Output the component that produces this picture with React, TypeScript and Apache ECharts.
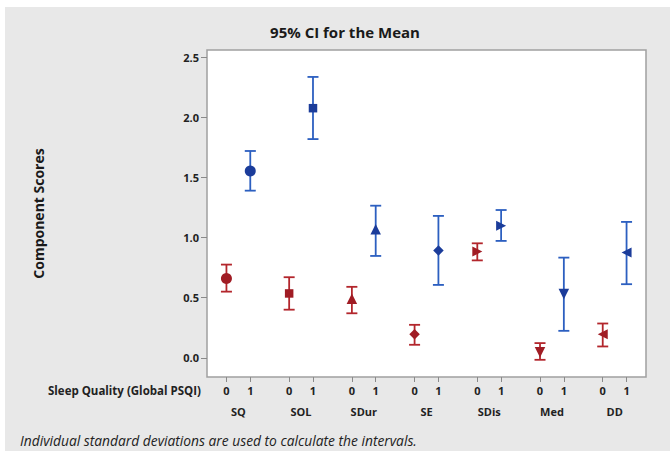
import React, { useEffect, useRef } from "react";
import * as echarts from "echarts";

const groups = ["SQ", "SOL", "SDur", "SE", "SDis", "Med", "DD"];
const levels = ["0", "1"];
const symbols = ["circle", "rect", "triangle", "diamond", "triangle", "triangle", "triangle"];
const rotations = [0, 0, 0, 0, -90, 180, 90];
const symbolSizes = [11, 8.5, 10.5, 10.5, 10, 10.5, 10];

const mean0 = [0.66, 0.535, 0.49, 0.195, 0.883, 0.045, 0.195];
const lower0 = [0.55, 0.40, 0.37, 0.108, 0.81, -0.017, 0.094];
const upper0 = [0.775, 0.67, 0.59, 0.274, 0.952, 0.122, 0.285];

const mean1 = [1.553, 2.076, 1.069, 0.892, 1.099, 0.53, 0.875];
const lower1 = [1.39, 1.819, 0.847, 0.606, 0.972, 0.224, 0.612];
const upper1 = [1.72, 2.336, 1.265, 1.18, 1.229, 0.833, 1.13];

const yTicks = [0, 0.5, 1.0, 1.5, 2.0, 2.5];

const OFFSET = 0.19;
const RED = "#a01c24";
const RED_BAR = "#b3262c";
const BLUE = "#1b3c9a";
const BLUE_BAR = "#2c5fc0";
const FONT = "Open Sans";

export default function App() {
  const ref = useRef<HTMLDivElement>(null);
  useEffect(() => {
    if (!ref.current) return;
    const chart = echarts.init(ref.current, null, { renderer: "svg" });

    const xPos = (g: number, lvl: number) => g + (lvl === 0 ? -OFFSET : OFFSET);
    const tickValues: number[] = [];
    groups.forEach((_, g) => {
      tickValues.push(xPos(g, 0), xPos(g, 1));
    });

    const pointData = (means: number[], lvl: number) =>
      means.map((m, g) => ({
        value: [xPos(g, lvl), m],
        symbol: symbols[g],
        symbolRotate: rotations[g],
        symbolSize: symbolSizes[g],
      }));
    const barData = (lo: number[], hi: number[], lvl: number) =>
      lo.map((l, g) => [xPos(g, lvl), l, hi[g]]);

    const errRender = (color: string) => (params: any, api: any) => {
      const x = api.value(0);
      const lo = api.value(1);
      const hi = api.value(2);
      const pHi = api.coord([x, hi]);
      const pLo = api.coord([x, lo]);
      const w = 5.5;
      const style = { stroke: color, lineWidth: 1.8 };
      return {
        type: "group",
        children: [
          { type: "line", shape: { x1: pHi[0], y1: pHi[1], x2: pLo[0], y2: pLo[1] }, style },
          { type: "line", shape: { x1: pHi[0] - w, y1: pHi[1], x2: pHi[0] + w, y2: pHi[1] }, style },
          { type: "line", shape: { x1: pLo[0] - w, y1: pLo[1], x2: pLo[0] + w, y2: pLo[1] }, style },
        ],
      };
    };

    chart.setOption({
      animation: false,
      backgroundColor: "#e8e8e8",
      textStyle: { fontFamily: FONT },
      title: {
        text: "95% CI for the Mean",
        left: 335,
        textAlign: "center",
        top: 12,
        textStyle: { fontFamily: FONT, fontSize: 15, fontWeight: "bold", color: "#1a1a1a" },
      },
      graphic: [
        {
          type: "text",
          left: 43,
          top: 377,
          style: {
            text: "Sleep Quality (Global PSQI)",
            font: `bold 11.5px "${FONT}"`,
            fill: "#222",
          },
        },
        {
          type: "text",
          left: 15,
          top: 426,
          style: {
            text: "Individual standard deviations are used to calculate the intervals.",
            font: `italic 13.8px "${FONT}"`,
            fill: "#222",
          },
        },
      ],
      grid: {
        left: 202,
        top: 43,
        right: 24,
        bottom: 74,
        show: true,
        backgroundColor: "#ffffff",
        borderColor: "#a0a0a0",
        borderWidth: 1.5,
      },
      xAxis: [
        {
          type: "value",
          min: -0.5,
          max: 6.5,
          axisLine: { show: false, onZero: false },
          splitLine: { show: false },
          axisTick: {
            show: true,
            customValues: tickValues,
            length: 5,
            lineStyle: { color: "#8a8a8a", width: 1 },
          },
          axisLabel: {
            customValues: tickValues,
            margin: 8,
            fontFamily: FONT,
            fontSize: 11,
            fontWeight: "bold",
            color: "#222",
            formatter: (v: number) => (v < Math.round(v) ? levels[0] : levels[1]),
          },
        },
        {
          type: "category",
          position: "bottom",
          data: groups,
          axisLine: { show: false, onZero: false },
          axisTick: { show: false },
          splitLine: { show: false },
          axisLabel: {
            margin: 29,
            fontFamily: FONT,
            fontSize: 11,
            fontWeight: "bold",
            color: "#222",
          },
        },
      ],
      yAxis: {
        type: "value",
        min: -0.16,
        max: 2.56,
        name: "Component Scores",
        nameLocation: "middle",
        nameGap: 162,
        nameTextStyle: { fontFamily: FONT, fontSize: 14, fontWeight: "bold", color: "#1a1a1a" },
        axisLine: { show: false, onZero: false },
        splitLine: { show: false },
        axisTick: {
          show: true,
          customValues: yTicks,
          length: 6,
          lineStyle: { color: "#8a8a8a", width: 1 },
        },
        axisLabel: {
          customValues: yTicks,
          margin: 8,
          fontFamily: FONT,
          fontSize: 11,
          fontWeight: "bold",
          color: "#222",
          formatter: (v: number) => v.toFixed(1),
        },
      },
      series: [
        {
          type: "custom",
          xAxisIndex: 0,
          renderItem: errRender(RED_BAR),
          encode: { x: 0, y: [1, 2] },
          data: barData(lower0, upper0, 0),
          z: 2,
        },
        {
          type: "custom",
          xAxisIndex: 0,
          renderItem: errRender(BLUE_BAR),
          encode: { x: 0, y: [1, 2] },
          data: barData(lower1, upper1, 1),
          z: 2,
        },
        {
          type: "scatter",
          xAxisIndex: 0,
          data: pointData(mean0, 0),
          itemStyle: { color: RED, opacity: 1 },
          z: 3,
        },
        {
          type: "scatter",
          xAxisIndex: 0,
          data: pointData(mean1, 1),
          itemStyle: { color: BLUE, opacity: 1 },
          z: 3,
        },
      ],
    });
    return () => chart.dispose();
  }, []);

  return (
    <div
      style={{
        position: "fixed",
        left: 0,
        top: 0,
        width: 670,
        height: 451,
        background: "#ffffff",
      }}
    >
      <div
        ref={ref}
        style={{ position: "absolute", left: 5, top: 7, width: 665, height: 444 }}
      />
    </div>
  );
}
